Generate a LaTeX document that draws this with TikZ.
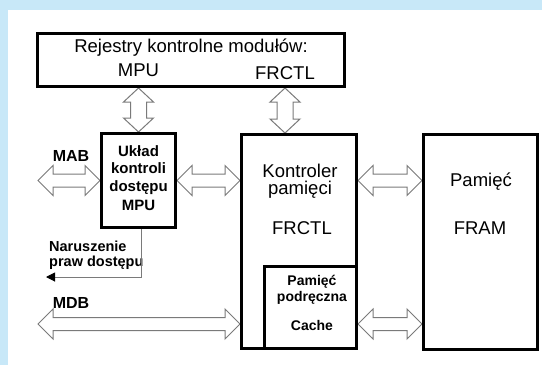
\documentclass[tikz,border=0pt]{standalone}
\usepackage{fontspec}
\setmainfont{Liberation Sans}
\usepackage{tikz}
\usetikzlibrary{positioning,arrows.meta,calc,backgrounds}
\definecolor{bandblue}{HTML}{C8E8F8}
\definecolor{busgray}{HTML}{7A7A7A}

% hollow bus arrows (horizontal: left end, right end)
\newcommand{\hbus}[2]{%
  \draw[bus] let \p1=#1, \p2=#2 in
    (\x1,\y1) -- (\x1+15pt,\y1+15pt) -- (\x1+15pt,\y1+6.5pt) -- (\x2-15pt,\y1+6.5pt)
    -- (\x2-15pt,\y1+15pt) -- (\x2,\y1) -- (\x2-15pt,\y1-15pt) -- (\x2-15pt,\y1-6.5pt)
    -- (\x1+15pt,\y1-6.5pt) -- (\x1+15pt,\y1-15pt) -- cycle;}
% (vertical: top end, bottom end)
\newcommand{\vbus}[2]{%
  \draw[bus] let \p1=#1, \p2=#2 in
    (\x1,\y1) -- (\x1+15pt,\y1-14pt) -- (\x1+8pt,\y1-14pt) -- (\x1+8pt,\y2+14pt)
    -- (\x1+15pt,\y2+14pt) -- (\x1,\y2) -- (\x1-15pt,\y2+14pt) -- (\x1-8pt,\y2+14pt)
    -- (\x1-8pt,\y1-14pt) -- (\x1-15pt,\y1-14pt) -- cycle;}

\begin{document}
\begin{tikzpicture}[
  x=1pt, y=-1pt,
  blk/.style={draw=black, line width=3pt, inner sep=0pt},
  bus/.style={draw=busgray, line width=1pt, fill=white, line join=miter},
  txt/.style={inner sep=0pt, align=center, font=\fontsize{18.5}{17}\selectfont},
  btxt/.style={inner sep=0pt, align=center, font=\fontsize{15}{17.5}\selectfont\bfseries},
  viol/.style={draw=busgray, line width=1pt},
  violtip/.style={-{Triangle[length=9pt,width=9pt,color=black]}},
]

% === BACKGROUND ===
\begin{scope}[on background layer]
  \fill[bandblue] (0,0) rectangle (542,365);
  \fill[white] (8,10) rectangle (542,365);
\end{scope}

% === BLOCKS ===
\node[blk, minimum width=307pt, minimum height=53pt] (regs) at (191,60) {};
\node[blk, minimum width=74pt, minimum height=94pt] (mpu) at (138.5,180.5) {};
\node[blk, minimum width=115pt, minimum height=214pt] (ctl) at (299,241.5) {};
\node[blk, minimum width=92pt, minimum height=82pt] (cache) at (310.5,307.5) {};
\node[blk, minimum width=114pt, minimum height=215pt] (fram) at (480.5,242) {};

% --- texts ---
\node[txt] (regtitle) at (191,48) {Rejestry kontrolne modułów:};
\node[txt] (regmpu) at (138.5,70) {MPU};
\node[txt] (regfrctl) at (285,73) {FRCTL};

\node[btxt] (mpudesc) at (138.5,170) {Układ\\kontroli\\dostępu};
\node[btxt] (mpuname) at (138.5,205) {MPU};

\node[txt] (ctldesc) at (300,181) {Kontroler\\pamięci};
\node[txt] (ctlname) at (302,228) {FRCTL};

\node[btxt, font=\fontsize{14}{15.5}\selectfont\bfseries] (cachedesc) at (312,290) {Pamięć\\podręczna};
\node[btxt, font=\fontsize{14}{15.5}\selectfont\bfseries] (cachename) at (312,325) {Cache};

\node[txt] (framdesc) at (481,182) {Pamięć};
\node[txt] (framname) at (480,228) {FRAM};

\node[btxt, font=\fontsize{16}{17}\selectfont\bfseries] (mablbl) at (71,156) {MAB};
\node[btxt, font=\fontsize{16}{17}\selectfont\bfseries] (mdblbl) at (71,303) {MDB};
\node[btxt, align=left, anchor=west, font=\fontsize{14.5}{15.5}\selectfont\bfseries] (violtxt) at (49,255) {Naruszenie\\praw dostępu};

% === BUSES ===
\coordinate (mab) at (38,180.5);
\coordinate (mdb) at (38,324);
\coordinate (violend) at (46,277);

\begin{scope}[on background layer]
  \vbus{(regs.south -| regmpu)}{(mpu.north)}
  \vbus{(regs.south -| regfrctl)}{(ctl.north -| regfrctl)}
  \hbus{(mab)}{(mpu.west)}
  \hbus{(mpu.east)}{(ctl.west |- mpu.east)}
  \hbus{(ctl.east |- mpu.east)}{(fram.west |- mpu.east)}
  \hbus{(mdb)}{(ctl.west |- mdb)}
  \hbus{(cache.east |- mdb)}{(fram.west |- mdb)}
\end{scope}

% --- access violation signal ---
\draw[viol, violtip] ($(mpu.south)+(2.5,0)$) |- (violend);

\end{tikzpicture}
\end{document}
